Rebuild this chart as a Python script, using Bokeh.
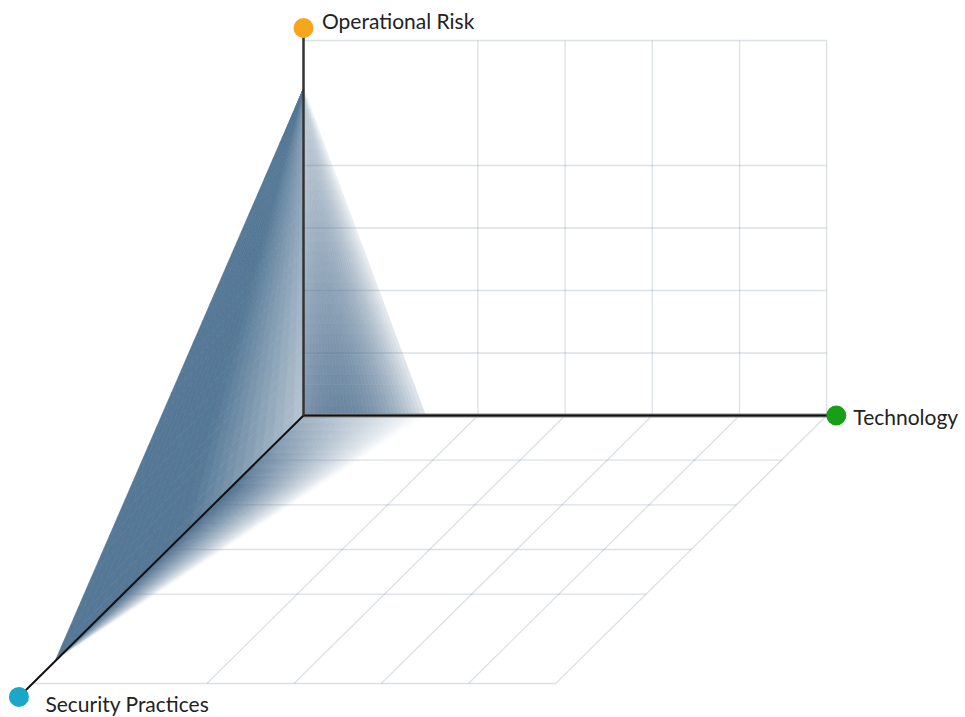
import numpy as np
from bokeh.plotting import figure
from bokeh.models import Range1d, ColumnDataSource
from bokeh.core.properties import value
from bokeh.embed import file_html
from bokeh.resources import INLINE

# ---------------- data ----------------
axis_names = ["Technology", "Operational Risk", "Security Practices"]
axis_colors = ["#17A017", "#F6A51D", "#1BA8C6"]
grid_max = 6
tech_gridlines = [2, 3, 4, 5, 6]
height_gridlines = [1, 2, 3, 4, 6]
depth_gridlines = [1, 2, 3, 4, 6]
profile_tech = 1.4      # Technology value
profile_ops = 5.23      # Operational Risk value
profile_sec = 5.5       # Security Practices value
axis_ends = [6.11, 6.2, 6.3]   # tech, height, depth axis lengths

# ---------------- projection (oblique 3D -> 2D) ----------------
PX_T, PX_H = 87.2, 62.5          # px per unit: technology (x), operational risk (y)
SEC_DX, SEC_DY = -45.17, 44.67   # px per unit of security depth
OX, OY = 303, 415                # origin position on canvas (px)
W, H = 965, 717


def proj(t, h, s):
    return t + s * SEC_DX / PX_T, h - s * SEC_DY / PX_H


p = figure(width=W, height=H,
           x_range=Range1d(-OX / PX_T, (W - OX) / PX_T),
           y_range=Range1d(-(H - OY) / PX_H, OY / PX_H),
           output_backend="svg", toolbar_location=None,
           x_axis_location=None, y_axis_location=None,
           min_border=0, background_fill_color="white")
p.outline_line_color = None
p.grid.grid_line_color = None

O = np.array(proj(0, 0, 0))
A = np.array(proj(0, profile_ops, 0))
B = np.array(proj(0, 0, profile_sec))
C = np.array(proj(profile_tech, 0, 0))

WHITE = np.array([255, 255, 255.0])
DEEP = np.array([68, 103, 136.0])
DARK_L = np.array([85, 120, 150.0])


def hexc(rgb):
    rgb = np.clip(np.round(rgb), 0, 255).astype(int)
    return "#%02x%02x%02x" % tuple(rgb)


def face(P0, P1, P2, n1, n2, color_fn, xs, ys, cols):
    for i in range(n1):
        a0, a1 = i / n1, (i + 1) / n1
        for j in range(n2):
            f0, f1 = j / n2, (j + 1) / n2
            px, py = [], []
            for a, f in ((a0, f0), (a1, f0), (a1, f1), (a0, f1)):
                pt = P0 + a * (P1 - P0) + f * (1 - a) * (P2 - P0)
                px.append(pt[0]); py.append(pt[1])
            xs.append(px); ys.append(py)
            cols.append(color_fn((a0 + a1) / 2, (f0 + f1) / 2))


def back_color(a, f):
    base = 0.82 - 0.52 * a
    g = np.clip(0.85 + 0.9 * f - 1.55 * f * f, 0, 1.1)
    d = float(np.clip(base * g, 0, 1))
    return hexc(WHITE * (1 - d) + DEEP * d)


def floor_color(a, f):
    amp = min(0.95, 0.5 + 1.5 * a)
    d = amp * (1 - f) ** 0.85
    return hexc(WHITE * (1 - d) + DEEP * d)


def left_color(a, f):
    L = max(0.0, 1 - f / 0.5) ** 1.1 * (0.28 + 0.3 * (1 - a))
    return hexc(DARK_L * (1 - L) + WHITE * L)


xs, ys, cols = [], [], []
face(O, A, C, 32, 32, back_color, xs, ys, cols)
face(O, B, C, 32, 32, floor_color, xs, ys, cols)
face(O, A, B, 32, 24, left_color, xs, ys, cols)
shade = ColumnDataSource(dict(xs=xs, ys=ys, c=cols))
p.patches("xs", "ys", source=shade, fill_color="c", line_color="c", line_width=0.7)

# ---------------- grid ----------------
gx, gy = [], []
for t in tech_gridlines:
    for (p0, p1) in ((proj(t, 0, 0), proj(t, grid_max, 0)), (proj(t, 0, 0), proj(t, 0, grid_max))):
        gx.append([p0[0], p1[0]]); gy.append([p0[1], p1[1]])
for h in height_gridlines:
    p0, p1 = proj(0, h, 0), proj(grid_max, h, 0)
    gx.append([p0[0], p1[0]]); gy.append([p0[1], p1[1]])
for s in depth_gridlines:
    p0, p1 = proj(0, 0, s), proj(grid_max, 0, s)
    gx.append([p0[0], p1[0]]); gy.append([p0[1], p1[1]])
p.multi_line(gx, gy, line_color="#61788f", line_alpha=0.22, line_width=1.3)

# ---------------- axes ----------------
ends = [proj(axis_ends[0], 0, 0), proj(0, axis_ends[1], 0), proj(0, 0, axis_ends[2])]
p.line([O[0], ends[0][0]], [O[1], ends[0][1]], line_color="#8a8a8a", line_width=4)
p.line([O[0], ends[0][0]], [O[1], ends[0][1]], line_color="#111111", line_width=2.2)
p.line([O[0], ends[1][0]], [O[1], ends[1][1]], line_color="#333333", line_width=2.5)
p.line([O[0], ends[2][0]], [O[1], ends[2][1]], line_color="#111111", line_width=2)

p.scatter([e[0] for e in ends], [e[1] for e in ends], size=20,
          fill_color=axis_colors, line_color=None)

# label offsets in px: (dx right, baseline dy down)
label_off = [(17, 0.5), (18.5, -8), (26.5, 6.6)]
lx = [e[0] + o[0] / PX_T for e, o in zip(ends, label_off)]
ly = [e[1] - o[1] / PX_H for e, o in zip(ends, label_off)]
p.text(lx, ly, text=axis_names, text_font=value("Lato"), text_font_size="21px",
       text_color="#222222", text_align="left", text_baseline="alphabetic")

open("out.html", "w").write(file_html(p, INLINE))
